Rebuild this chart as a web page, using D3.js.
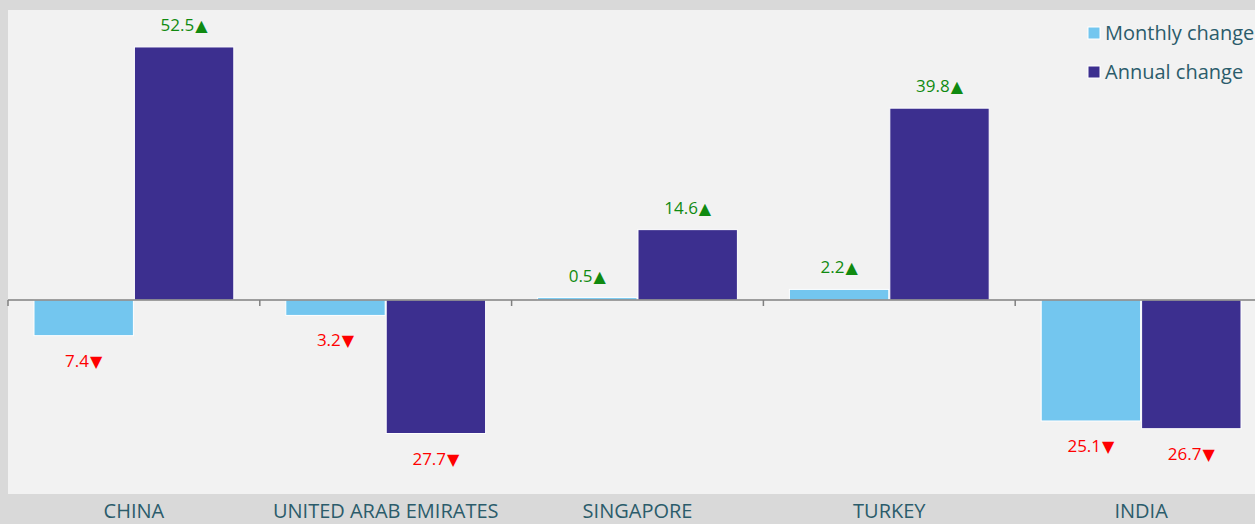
<!DOCTYPE html>
<html><head><meta charset="utf-8">
<script src="https://cdn.jsdelivr.net/npm/d3@7"></script>
<style>body{margin:0;background:#d9d9d9;overflow:hidden}svg{display:block}</style>
</head><body><svg id="c" width="1255" height="524"></svg>
<script>
const categories = ["CHINA","UNITED ARAB EMIRATES","SINGAPORE","TURKEY","INDIA"];
const series = ["Monthly change","Annual change"];
const monthly = [-7.4,-3.2,0.5,2.2,-25.1];
const annual = [52.5,-27.7,14.6,39.8,-26.7];
const colors = ["#73c6ef","#3c2f8f"];

const svg = d3.select("#c");
const W=1255,H=524;
const plot = {x0:8, x1:1267, y0:10, y1:494};
svg.append("rect").attr("width",W).attr("height",H).attr("fill","#d9d9d9");
svg.append("rect").attr("x",plot.x0).attr("y",plot.y0).attr("width",plot.x1-plot.x0).attr("height",plot.y1-plot.y0).attr("fill","#f2f2f2");

const x = d3.scaleBand().domain(categories).range([plot.x0,plot.x1]);
const xs = d3.scaleBand().domain(series).range([26, x.bandwidth()-26]).paddingInner(0.01);
const y = d3.scaleLinear().domain([-40,60]).range([492.8,10.8]);
const font = "'Open Sans', sans-serif";

const data = [];
categories.forEach((c,i)=>{ data.push({c,s:series[0],v:monthly[i]}); data.push({c,s:series[1],v:annual[i]}); });

svg.append("g").selectAll("rect").data(data).join("rect")
  .attr("x",d=>x(d.c)+xs(d.s)).attr("width",xs.bandwidth())
  .attr("y",d=>y(Math.max(0,d.v))).attr("height",d=>Math.abs(y(d.v)-y(0)))
  .attr("fill",d=>colors[series.indexOf(d.s)]).attr("stroke","#ffffff").attr("stroke-width",1);

// zero axis
const ax = svg.append("g").attr("transform",`translate(0,${y(0)})`);
ax.append("line").attr("x1",plot.x0).attr("x2",plot.x1).attr("stroke","#808080").attr("stroke-width",1.5);
ax.selectAll("line.t").data(categories).join("line").attr("class","t")
  .attr("x1",d=>x(d)).attr("x2",d=>x(d)).attr("y1",0).attr("y2",6).attr("stroke","#808080").attr("stroke-width",1.5);

// value labels
const vl = svg.append("g").selectAll("text").data(data).join("text")
  .attr("x",d=>x(d.c)+xs(d.s)+xs.bandwidth()/2)
  .attr("y",d=>d.v>=0 ? y(d.v)-16 : y(d.v)+31)
  .attr("text-anchor","middle").attr("font-family",font).attr("font-size",17)
  .attr("fill",d=>d.v>=0?"#108a10":"#ff0000");
vl.append("tspan").text(d=>Math.abs(d.v).toFixed(1));
vl.append("tspan").attr("font-family","'DejaVu Sans', sans-serif").attr("font-size",16).attr("dx",1)
  .text(d=>d.v>=0?"▲":"▼");

// category labels
const xAxis = d3.axisBottom(x).tickSize(0).tickPadding(0);
const xg = svg.append("g").attr("transform",`translate(0,${plot.y1})`).call(xAxis);
xg.select(".domain").remove();
xg.selectAll("text").attr("font-family",font).attr("font-size",20).attr("fill","#2b5c6b").attr("dy","24");

// legend
const lg = svg.append("g").attr("transform","translate(1088,24)");
series.forEach((s,i)=>{
  const g = lg.append("g").attr("transform",`translate(0,${i*39})`);
  g.append("rect").attr("x",0).attr("y",3).attr("width",12).attr("height",12).attr("fill",colors[i]).attr("stroke","#fff").attr("stroke-width",1);
  g.append("text").attr("x",17).attr("y",16).attr("font-family",font).attr("font-size",20).attr("fill","#2b5c6b").text(s);
});
</script></body></html>
